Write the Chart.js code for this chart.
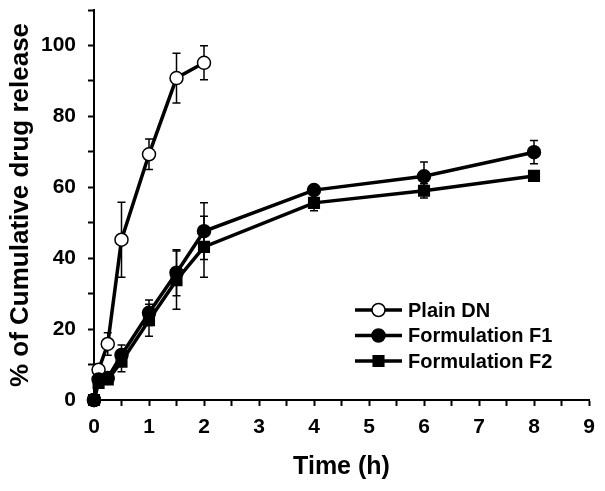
<!DOCTYPE html>
<html><head><meta charset="utf-8">
<script src="https://cdn.jsdelivr.net/npm/chart.js@4"></script>
<style>html,body{margin:0;padding:0;background:#fff}</style>
</head><body>
<canvas id="c" width="605" height="491" style="display:block"></canvas>
<script>
// ---- data ----
const timesPlain = [0, 0.083, 0.25, 0.5, 1, 1.5, 2];
const plainDN    = [0, 8.5, 15.8, 45.2, 69.3, 90.8, 95.1];
const plainDNErr = [0, 1.5, 3.2, 10.6, 4.3, 7.0, 4.8];
const timesForm  = [0, 0.083, 0.25, 0.5, 1, 1.5, 2, 4, 6, 8];
const formF1     = [0, 5.8, 6.2, 12.7, 24.6, 35.9, 47.6, 59.2, 63.1, 69.9];
const formF1Err  = [0, 1.0, 1.0, 2.8, 3.6, 6.5, 8.0, 1.0, 4.0, 3.3];
const formF2     = [0, 4.8, 5.8, 10.8, 22.5, 33.8, 43.2, 55.6, 59.0, 63.2];
const formF2Err  = [0, 1.0, 1.0, 2.8, 4.5, 8.2, 8.6, 2.2, 2.0, 1.0];
const seriesNames = ['Plain DN', 'Formulation F1', 'Formulation F2'];
const xTickLabels = [0, 1, 2, 3, 4, 5, 6, 7, 8, 9];
const yTickLabels = [0, 20, 40, 60, 80, 100];
const xTitle = 'Time (h)';
const yTitle = '% of Cumulative drug release';

const FONT = '"Liberation Sans", Arial, sans-serif';
const pts = (xs, ys) => xs.map((x, i) => ({x, y: ys[i]}));

const errorBars = {
  id: 'errorBars',
  beforeDatasetsDraw(chart) {
    const ctx = chart.ctx, ys = chart.scales.y;
    ctx.save();
    ctx.strokeStyle = '#000';
    ctx.lineWidth = 1.5;
    chart.data.datasets.forEach((ds, i) => {
      const meta = chart.getDatasetMeta(i);
      meta.data.forEach((el, j) => {
        const e = ds.errors[j];
        if (!e) return;
        const v = ds.data[j].y;
        const x = el.x, y1 = ys.getPixelForValue(v + e), y2 = ys.getPixelForValue(v - e);
        ctx.beginPath();
        ctx.moveTo(x, y1); ctx.lineTo(x, y2);
        ctx.moveTo(x - 4, y1); ctx.lineTo(x + 4, y1);
        ctx.moveTo(x - 4, y2); ctx.lineTo(x + 4, y2);
        ctx.stroke();
      });
    });
    ctx.restore();
  }
};

const legendPlugin = {
  id: 'customLegend',
  afterDraw(chart) {
    const ctx = chart.ctx;
    const rows = [310, 335.5, 361];
    ctx.save();
    chart.data.datasets.forEach((ds, i) => {
      const y = rows[i];
      ctx.strokeStyle = '#000';
      ctx.lineWidth = 3.5;
      ctx.beginPath(); ctx.moveTo(355, y); ctx.lineTo(402, y); ctx.stroke();
      ctx.fillStyle = ds.pointBackgroundColor;
      ctx.strokeStyle = '#000';
      ctx.lineWidth = 1.5;
      Chart.helpers.drawPoint(ctx, {pointStyle: ds.pointStyle, radius: ds.pointRadius, rotation: 0, borderWidth: 1.5}, 378.5, y);
      ctx.fillStyle = '#000';
      ctx.font = 'bold 20px ' + FONT;
      ctx.textBaseline = 'middle';
      ctx.textAlign = 'left';
      ctx.fillText(ds.label, 408, y + 1);
    });
    ctx.restore();
  }
};

const common = {showLine: true, borderColor: '#000', borderWidth: 3.5, pointBorderColor: '#000',
  pointBorderWidth: 1.5, tension: 0, clip: false};

new Chart(document.getElementById('c'), {
  type: 'scatter',
  data: {
    datasets: [
      Object.assign({label: seriesNames[0], data: pts(timesPlain, plainDN), errors: plainDNErr,
        pointStyle: 'circle', pointRadius: 6.5, pointBackgroundColor: '#fff', order: 3}, common),
      Object.assign({label: seriesNames[1], data: pts(timesForm, formF1), errors: formF1Err,
        pointStyle: 'circle', pointRadius: 6.5, pointBackgroundColor: '#000', order: 2}, common),
      Object.assign({label: seriesNames[2], data: pts(timesForm, formF2), errors: formF2Err,
        pointStyle: 'rect', pointRadius: 7.5, pointBackgroundColor: '#000', order: 1}, common)
    ]
  },
  options: {
    responsive: false,
    animation: false,
    devicePixelRatio: 1,
    layout: {padding: {left: 0, right: 16, top: 10, bottom: 0}},
    plugins: {legend: {display: false}, tooltip: {enabled: false}},
    scales: {
      x: {
        type: 'linear', min: 0, max: 9,
        afterBuildTicks(s) {
          const t = [];
          for (let v = 0; v <= 9; v += 0.5) t.push({value: v});
          s.ticks = t;
        },
        afterFit(s) { s.height = 91; s.paddingLeft = 0; s.paddingRight = 0; },
        ticks: {
          autoSkip: false, maxRotation: 0, color: '#000', padding: 9,
          font: {family: FONT, size: 21, weight: 'bold'},
          callback: v => xTickLabels.includes(v) ? String(v) : ''
        },
        grid: {display: true, drawOnChartArea: false, drawTicks: true, tickLength: 6, tickColor: '#000', tickWidth: 2},
        border: {display: true, color: '#000', width: 2},
        title: {display: true, text: xTitle, color: '#000', font: {family: FONT, size: 25, weight: 'bold'}, padding: {top: 0, bottom: 9}}
      },
      y: {
        min: 0, max: 110,
        afterBuildTicks(s) {
          const t = [];
          for (let v = 0; v <= 110; v += 10) t.push({value: v});
          s.ticks = t;
        },
        afterFit(s) { s.width = 94; s.paddingTop = 0; s.paddingBottom = 0; },
        ticks: {
          autoSkip: false, color: '#000', padding: 12,
          font: {family: FONT, size: 21, weight: 'bold'},
          callback: v => yTickLabels.includes(v) ? String(v) : ''
        },
        grid: {display: true, drawOnChartArea: false, drawTicks: true, tickLength: 6, tickColor: '#000', tickWidth: 2},
        border: {display: true, color: '#000', width: 2},
        title: {display: true, text: yTitle, color: '#000', font: {family: FONT, size: 26, weight: 'bold'}, padding: {top: 5, bottom: 0}}
      }
    }
  },
  plugins: [errorBars, legendPlugin]
});
</script>
</body></html>
